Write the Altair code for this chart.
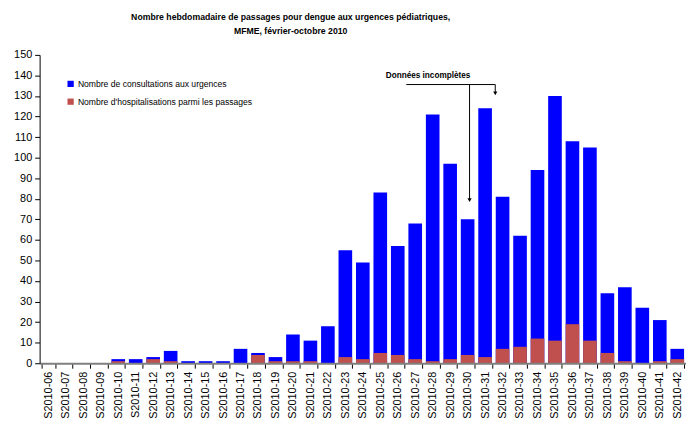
import altair as alt
import pandas as pd

weeks = ["S2010-06", "S2010-07", "S2010-08", "S2010-09", "S2010-10", "S2010-11",
         "S2010-12", "S2010-13", "S2010-14", "S2010-15", "S2010-16", "S2010-17",
         "S2010-18", "S2010-19", "S2010-20", "S2010-21", "S2010-22", "S2010-23",
         "S2010-24", "S2010-25", "S2010-26", "S2010-27", "S2010-28", "S2010-29",
         "S2010-30", "S2010-31", "S2010-32", "S2010-33", "S2010-34", "S2010-35",
         "S2010-36", "S2010-37", "S2010-38", "S2010-39", "S2010-40", "S2010-41",
         "S2010-42"]
consultations = [0, 0, 0, 0, 2, 2, 3, 6, 1, 1, 1, 7, 5, 3, 14, 11, 18, 55, 49, 83,
                 57, 68, 121, 97, 70, 124, 81, 62, 94, 130, 108, 105, 34, 37, 27, 21, 7]
hospitalisations = [0, 0, 0, 0, 1, 0, 2, 1, 0, 0, 0, 0, 4, 1, 1, 1, 0, 3, 2, 5,
                    4, 2, 1, 2, 4, 3, 7, 8, 12, 11, 19, 11, 5, 1, 0, 1, 2]
series_names = ["Nombre de consultations aux urgences",
                "Nombre d'hospitalisations parmi les passages"]
series_colors = ["#0000FF", "#C0504D"]
y_ticks = [0, 10, 20, 30, 40, 50, 60, 70, 80, 90, 100, 110, 120, 130, 140, 150]
title_lines = ["Nombre hebdomadaire de passages pour dengue aux urgences pédiatriques,",
               "MFME, février-octobre 2010"]
annotation_text = "Données incomplètes"

rows = []
for w, v in zip(weeks, consultations):
    rows.append({"semaine": w, "serie": series_names[0], "valeur": v, "ordre": 0})
for w, v in zip(weeks, hospitalisations):
    rows.append({"semaine": w, "serie": series_names[1], "valeur": v, "ordre": 1})
df = pd.DataFrame(rows)

NARROW = "Liberation Sans Narrow, Arial Narrow, Liberation Sans, Arial"
SANS = "Liberation Sans, Arial"

bars = alt.Chart(df).mark_bar().encode(
    x=alt.X("semaine:N", sort=weeks,
            scale=alt.Scale(paddingInner=0.22, paddingOuter=0.11),
            axis=alt.Axis(title=None, labelAngle=270, labelFontSize=11, labelFont=SANS,
                          labelColor="#000000", tickBand="extent", tickSize=5,
                          tickColor="#000000", domainColor="#7f7f7f", domainWidth=2,
                          labelPadding=3, zindex=1, labelOverlap=False)),
    y=alt.Y("valeur:Q", stack=None,
            scale=alt.Scale(domain=[0, 150], nice=False),
            axis=alt.Axis(title=None, values=y_ticks, labelFontSize=11, labelFont=SANS,
                          labelColor="#000000", tickSize=5, tickColor="#000000",
                          domainColor="#000000", grid=False, labelPadding=3, zindex=1)),
    color=alt.Color("serie:N",
                    scale=alt.Scale(domain=series_names, range=series_colors),
                    legend=alt.Legend(title=None, orient="none", legendX=27, legendY=25,
                                      symbolType="square", symbolSize=40,
                                      symbolStrokeWidth=0, symbolOpacity=1,
                                      labelFontSize=8.7, labelFont=NARROW,
                                      labelColor="#000000", rowPadding=8,
                                      labelOffset=3, padding=0, labelLimit=0)),
    order=alt.Order("ordre:Q"),
)

one = pd.DataFrame({"a": [0]})
ann_text = alt.Chart(one).mark_text(text=annotation_text, font=NARROW, fontSize=8.3,
                                    fontWeight="bold", align="center",
                                    baseline="middle", color="#000000").encode(
    x=alt.value(393), y=alt.value(21))
hline = alt.Chart(one).mark_rule(color="#000000", strokeWidth=1).encode(
    x=alt.value(371), x2=alt.value(461), y=alt.value(30))
v1 = alt.Chart(one).mark_rule(color="#000000", strokeWidth=1).encode(
    x=alt.value(435), y=alt.value(30), y2=alt.value(146))
v2 = alt.Chart(one).mark_rule(color="#000000", strokeWidth=1).encode(
    x=alt.value(461), y=alt.value(30), y2=alt.value(38))
a1 = alt.Chart(one).mark_point(shape="triangle-down", filled=True, size=18,
                               color="#000000", opacity=1).encode(
    x=alt.value(435), y=alt.value(147))
a2 = alt.Chart(one).mark_point(shape="triangle-down", filled=True, size=18,
                               color="#000000", opacity=1).encode(
    x=alt.value(461), y=alt.value(39))

chart = alt.layer(bars, hline, v1, v2, a1, a2, ann_text).properties(
    width=654, height=312,
    autosize=alt.AutoSizeParams(type="none"),
    padding={"left": 32, "top": 45, "right": 0, "bottom": 56},
    title=alt.TitleParams(text=title_lines, anchor="middle", dx=-73, fontSize=8.8,
                          font=NARROW, fontWeight="bold", lineHeight=14,
                          offset=13, color="#000000"),
).configure_view(stroke=None)

chart.save("out.html", embed_options={"renderer": "svg", "actions": False})
